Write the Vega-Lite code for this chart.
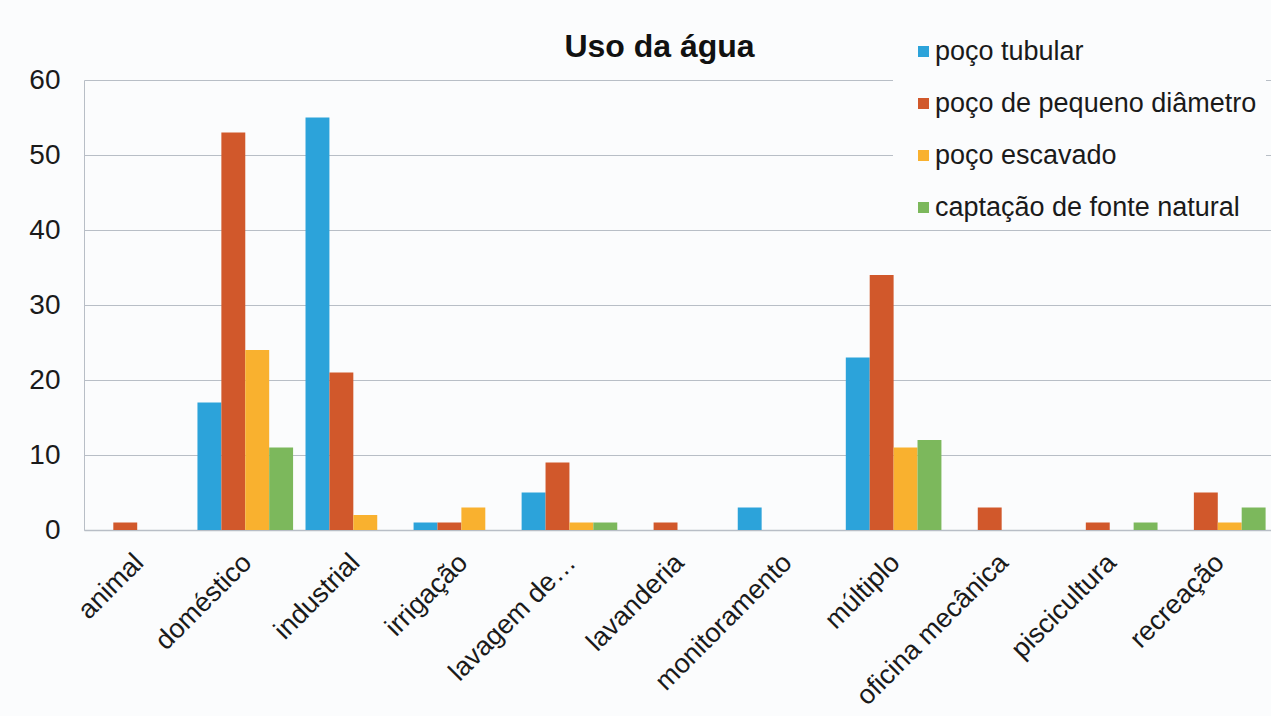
{
  "$schema": "https://vega.github.io/schema/vega-lite/v6.json",
  "width": 1187,
  "height": 450,
  "autosize": {"type": "none"},
  "padding": {"left": 84, "top": 80, "right": 0, "bottom": 186},
  "background": "#fbfcfd",
  "title": {
    "text": "Uso da água",
    "font": "Liberation Sans",
    "fontSize": 32,
    "fontWeight": "bold",
    "color": "#111111",
    "anchor": "middle",
    "frame": "group",
    "baseline": "alphabetic",
    "offset": 23,
    "dy": 83,
    "dx": -18
  },
  "data": {
    "values": [
      {"uso": "animal", "tipo": "poço de pequeno diâmetro", "n": 1},
      {"uso": "doméstico", "tipo": "poço tubular", "n": 17},
      {"uso": "doméstico", "tipo": "poço de pequeno diâmetro", "n": 53},
      {"uso": "doméstico", "tipo": "poço escavado", "n": 24},
      {"uso": "doméstico", "tipo": "captação de fonte natural", "n": 11},
      {"uso": "industrial", "tipo": "poço tubular", "n": 55},
      {"uso": "industrial", "tipo": "poço de pequeno diâmetro", "n": 21},
      {"uso": "industrial", "tipo": "poço escavado", "n": 2},
      {"uso": "irrigação", "tipo": "poço tubular", "n": 1},
      {"uso": "irrigação", "tipo": "poço de pequeno diâmetro", "n": 1},
      {"uso": "irrigação", "tipo": "poço escavado", "n": 3},
      {"uso": "lavagem de…", "tipo": "poço tubular", "n": 5},
      {"uso": "lavagem de…", "tipo": "poço de pequeno diâmetro", "n": 9},
      {"uso": "lavagem de…", "tipo": "poço escavado", "n": 1},
      {"uso": "lavagem de…", "tipo": "captação de fonte natural", "n": 1},
      {"uso": "lavanderia", "tipo": "poço de pequeno diâmetro", "n": 1},
      {"uso": "monitoramento", "tipo": "poço tubular", "n": 3},
      {"uso": "múltiplo", "tipo": "poço tubular", "n": 23},
      {"uso": "múltiplo", "tipo": "poço de pequeno diâmetro", "n": 34},
      {"uso": "múltiplo", "tipo": "poço escavado", "n": 11},
      {"uso": "múltiplo", "tipo": "captação de fonte natural", "n": 12},
      {"uso": "oficina mecânica", "tipo": "poço de pequeno diâmetro", "n": 3},
      {"uso": "piscicultura", "tipo": "poço de pequeno diâmetro", "n": 1},
      {"uso": "piscicultura", "tipo": "captação de fonte natural", "n": 1},
      {"uso": "recreação", "tipo": "poço de pequeno diâmetro", "n": 5},
      {"uso": "recreação", "tipo": "poço escavado", "n": 1},
      {"uso": "recreação", "tipo": "captação de fonte natural", "n": 3}
    ]
  },
  "mark": {"type": "bar"},
  "encoding": {
    "x": {
      "field": "uso",
      "type": "nominal",
      "sort": ["animal", "doméstico", "industrial", "irrigação", "lavagem de…", "lavanderia", "monitoramento", "múltiplo", "oficina mecânica", "piscicultura", "recreação"],
      "scale": {"domain": ["animal", "doméstico", "industrial", "irrigação", "lavagem de…", "lavanderia", "monitoramento", "múltiplo", "oficina mecânica", "piscicultura", "recreação"], "paddingInner": 0.115, "paddingOuter": 0.05},
      "axis": {
        "title": null,
        "labelAngle": -45,
        "labelAlign": "right",
        "labelBaseline": "top",
        "labelPadding": 19,
        "labelOffset": -7,
        "labelFont": "Liberation Sans",
        "labelFontSize": 27,
        "labelColor": "#1a1a1a",
        "labelLimit": 400,
        "ticks": false,
        "tickSize": 0,
        "domain": true,
        "domainColor": "#b8bec6",
        "domainWidth": 1.5,
        "grid": false,
        "labelOverlap": false
      }
    },
    "xOffset": {
      "field": "tipo",
      "type": "nominal",
      "scale": {"domain": ["poço tubular", "poço de pequeno diâmetro", "poço escavado", "captação de fonte natural"], "paddingInner": 0, "paddingOuter": 0}
    },
    "y": {
      "field": "n",
      "type": "quantitative",
      "scale": {"domain": [0, 60], "nice": false},
      "axis": {
        "title": null,
        "values": [0, 10, 20, 30, 40, 50, 60],
        "labelFont": "Liberation Sans",
        "labelFontSize": 28,
        "labelColor": "#1a1a1a",
        "labelPadding": 24,
        "ticks": false,
        "tickSize": 0,
        "domain": true,
        "domainColor": "#b8bec6",
        "grid": true,
        "gridColor": "#b8bec6",
        "gridWidth": 1
      }
    },
    "color": {
      "field": "tipo",
      "type": "nominal",
      "scale": {
        "domain": ["poço tubular", "poço de pequeno diâmetro", "poço escavado", "captação de fonte natural"],
        "range": ["#2ca3da", "#d1582b", "#f9b12f", "#7cb85c"]
      },
      "legend": {
        "title": null,
        "orient": "none",
        "legendX": 809,
        "legendY": -51,
        "padding": 9,
        "symbolOffset": 8,
        "fillColor": "#fbfcfd",
        "symbolType": "square",
        "symbolSize": 121,
        "symbolStrokeWidth": 0,
        "labelFont": "Liberation Sans",
        "labelFontSize": 27,
        "labelColor": "#1a1a1a",
        "labelOffset": -2,
        "rowPadding": 24,
        "labelLimit": 400
      }
    }
  },
  "config": {"view": {"stroke": null}}
}
